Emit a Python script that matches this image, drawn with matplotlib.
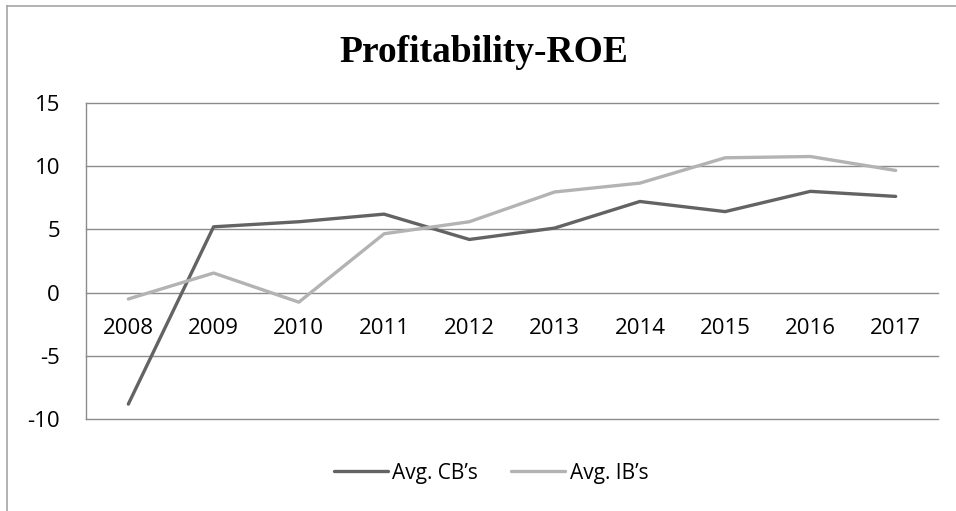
import matplotlib.pyplot as plt
from matplotlib.lines import Line2D

years = ['2008', '2009', '2010', '2011', '2012', '2013', '2014', '2015', '2016', '2017']
avg_cb = [-8.8, 5.2, 5.6, 6.2, 4.2, 5.1, 7.2, 6.4, 8.0, 7.6]
avg_ib = [-0.5, 1.55, -0.75, 4.65, 5.6, 7.95, 8.65, 10.65, 10.75, 9.65]
y_ticks = [-10, -5, 0, 5, 10, 15]

W, H = 956, 511
fig = plt.figure(figsize=(W / 100, H / 100), dpi=100)
ax = fig.add_axes([85.7 / W, 1 - 419.3 / H, (938.3 - 85.7) / W, (419.3 - 102.7) / H])

# category axis crosses at zero (set before tick labels, it resets them)
ax.spines['bottom'].set_position(('data', 0))
ax.spines['bottom'].set_visible(False)
for s in ['top', 'right']:
    ax.spines[s].set_visible(False)
ax.spines['left'].set_color('#8c8c8c')
ax.spines['left'].set_linewidth(1.0)

x = range(len(years))
ax.plot(x, avg_cb, color='#636363', lw=2.4, label='Avg. CB’s', solid_capstyle='round')
ax.plot(x, avg_ib, color='#b3b3b3', lw=2.4, label='Avg. IB’s', solid_capstyle='round')

ax.set_xlim(-0.5, len(years) - 0.5)
ax.set_ylim(-10, 15)
ax.set_yticks(y_ticks)
ax.set_yticklabels([str(v) for v in y_ticks], fontfamily='Open Sans', fontsize=16)
ax.set_xticks(list(x))
ax.set_xticklabels(years, fontfamily='Open Sans', fontsize=16)

ax.yaxis.grid(True, color='#8c8c8c', lw=1.0)
for gl in ax.get_ygridlines():
    gl.set_clip_on(False)
ax.set_axisbelow(True)
ax.tick_params(axis='y', length=0, pad=18.5)
ax.tick_params(axis='x', length=0, pad=18)

# title
fig.text(484 / W, 1 - 61.7 / H, 'Profitability-ROE', ha='center', va='baseline',
         fontfamily='Liberation Serif', fontweight='bold', fontsize=27)

# legend
fig.legend(loc='center', bbox_to_anchor=(491 / W, 1 - 473 / H), ncol=2, frameon=False,
           prop={'family': 'Open Sans', 'size': 15}, handlelength=2.6, handletextpad=0.2,
           columnspacing=1.6)

# chart area border (left and top edges visible)
fig.add_artist(Line2D([7.3 / W, 7.3 / W], [0, 1 - 5.7 / H], color='#a6a6a6', lw=1.2))
fig.add_artist(Line2D([7.3 / W, 1], [1 - 5.7 / H, 1 - 5.7 / H], color='#a6a6a6', lw=1.2))

fig.savefig('out.png', dpi=100)
